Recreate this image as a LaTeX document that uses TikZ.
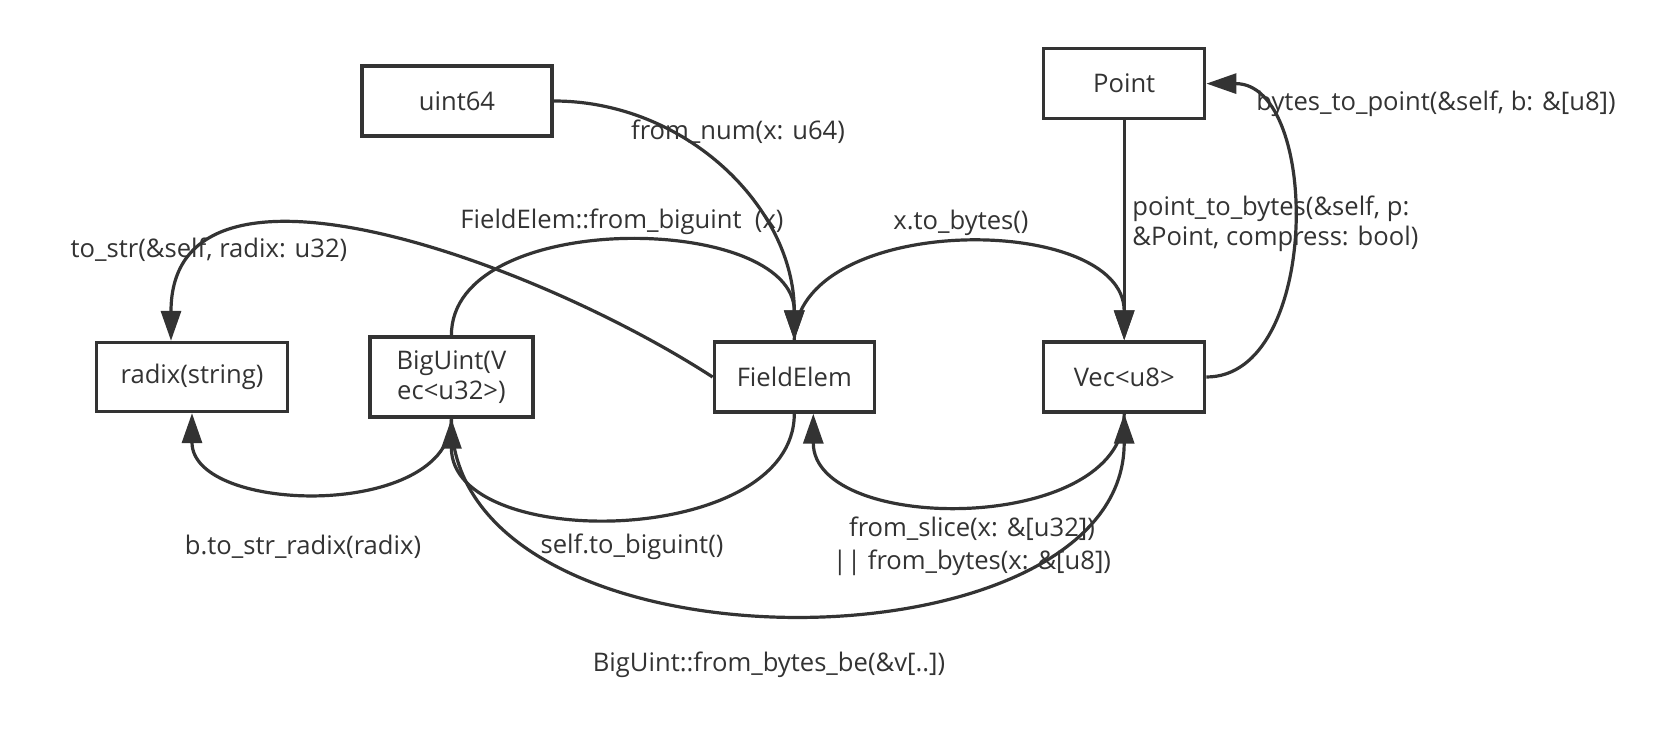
\documentclass[tikz,border=0pt]{standalone}
\usepackage{fontspec}
\setmainfont{Open Sans}
\usetikzlibrary{arrows.meta, positioning, calc}
\definecolor{inkgray}{RGB}{51,51,51}

\begin{document}
\begin{tikzpicture}[x=0.5pt, y=-0.5pt,
    font=\fontsize{12.8}{15}\selectfont,
    box/.style={rectangle, draw=inkgray, line width=1.7pt, fill=white, minimum width=80pt, minimum height=35pt, align=center, inner sep=1pt, text=inkgray},
    conv/.style={-{Triangle[length=15pt, width=10pt]}, line width=1.6pt, color=inkgray},
    fn/.style={text=inkgray, inner sep=0pt, align=center}
]
\useasboundingbox[fill=white] (0,0) rectangle (1678,749);
\node[box, minimum width=95.5pt, minimum height=34.5pt] (radix) at (192,377) {radix(string)};
\node[box, minimum width=81.5pt, minimum height=40pt, right=39.5pt of radix] (biguint) {BigUint(V\\ec<u32>)};
\node[box, right=89pt of biguint] (field) {FieldElem};
\node[box, minimum width=80.5pt, right=83pt of field] (vec) {Vec<u8>};
\node[box, minimum width=80.5pt, above=110pt of vec] (point) {Point};
\node[box, minimum width=95pt] (uint) at (457,101) {uint64};
% upper arcs
\draw[conv] (uint.east) to[out=0, in=90] (field.north);
\draw[conv] (biguint.north) to[out=90, in=90, looseness=0.95] (field.north);
\draw[conv] (field.north) to[out=90, in=90] (vec.north);
\draw[conv] (field.west) to[out=147, in=90] ([xshift=-10.5pt]radix.north);
% lower arcs
\draw[conv] (biguint.south) to[out=-90, in=-90] (radix.south);
\draw[conv] (field.south) to[out=-90, in=-90] (biguint.south);
\draw[conv] (vec.south) to[out=-90, in=-90] ([xshift=9.5pt]field.south);
\draw[conv] (biguint.south) to[out=-90, in=-90] (vec.south);
% point
\draw[conv] (point.south) -- (vec.north);
\draw[conv] (vec.east) to[out=0, in=0] (point.east);
% labels
\node[fn] (lnum) at (738,132) {from\_num(x: u64)};
\node[fn] (lbig) at (622,222) {FieldElem::from\_biguint\ \ (x)};
\node[fn] (lbytes) at (961,223) {x.to\_bytes()};
\node[fn] (lstr) at (209,250) {to\_str(\&self, radix: u32)};
\node[fn, align=left, anchor=west] (lp2b) at (1132,224) {point\_to\_bytes(\&self, p:\\\&Point, compress: bool)};
\node[fn] (lb2p) at (1436,104) {bytes\_to\_point(\&self, b: \&[u8])};
\node[fn] (lradix) at (303,547) {b.to\_str\_radix(radix)};
\node[fn] (ltobig) at (632,547) {self.to\_biguint()};
\node[fn, font=\fontsize{12.8}{16.5}\selectfont] (lslice) at (972,546) {from\_slice(x: \&[u32])\\|| from\_bytes(x: \&[u8])};
\node[fn] (lbe) at (769,665) {BigUint::from\_bytes\_be(\&v[..])};
\end{tikzpicture}
\end{document}
